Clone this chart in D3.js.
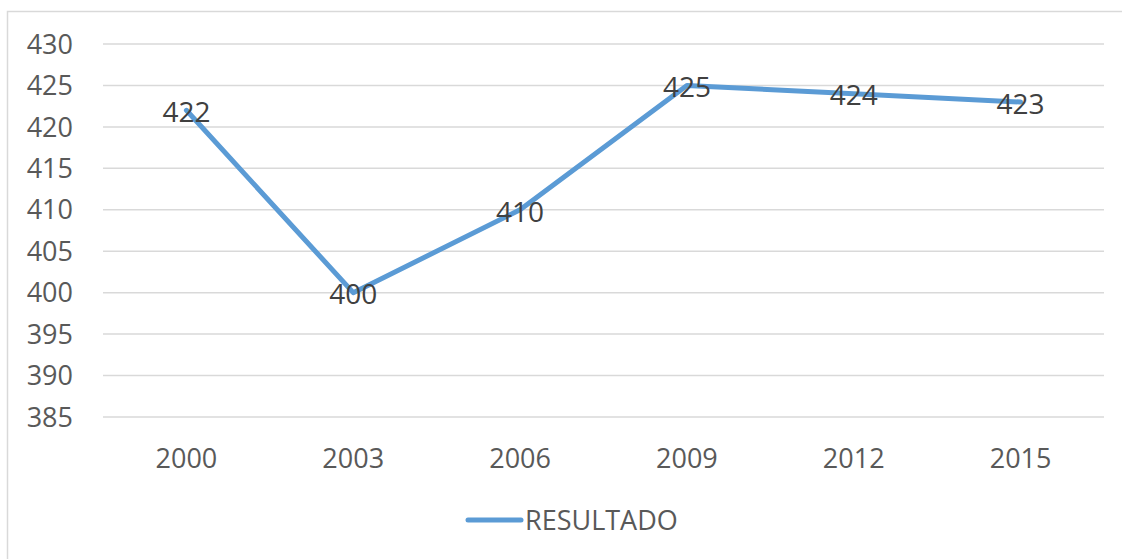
<!DOCTYPE html>
<html>
<head>
  <script src="https://d3js.org/d3.v7.min.js"></script>
  <style>
  body { margin: 0; background: #fff; }
  text { font-family: "Open Sans", sans-serif; }
  </style>
</head>
<body>
  <script>
  var w = 1122;
  var h = 559;

  //Chart data
  var years = ["2000", "2003", "2006", "2009", "2012", "2015"];
  var resultado = [422, 400, 410, 425, 424, 423];
  var yTicks = [385, 390, 395, 400, 405, 410, 415, 420, 425, 430];
  var seriesName = "RESULTADO";

  var svg = d3.select("body")
    .append("svg")
    .attr("width", w)
    .attr("height", h);

  //Chart border
  svg.append("rect")
    .attr("x", 7.5)
    .attr("y", 11.5)
    .attr("width", w + 20)
    .attr("height", h + 20)
    .attr("fill", "#fff")
    .attr("stroke", "#d9d9d9")
    .attr("stroke-width", 1.5);

  var x = d3.scalePoint()
    .domain(years)
    .range([103, 1104])
    .padding(0.5);

  var y = d3.scaleLinear()
    .domain([385, 430])
    .range([417, 44]);

  //Gridlines
  svg.append("g")
    .selectAll("line")
    .data(yTicks)
    .enter()
    .append("line")
      .attr("x1", 103)
      .attr("x2", 1104)
      .attr("y1", function(d){ return y(d); })
      .attr("y2", function(d){ return y(d); })
      .attr("stroke", "#d9d9d9")
      .attr("stroke-width", 1.5);

  //Y axis labels
  svg.append("g")
    .selectAll("text")
    .data(yTicks)
    .enter()
    .append("text")
      .attr("x", 73)
      .attr("y", function(d){ return y(d); })
      .attr("dy", "0.36em")
      .attr("text-anchor", "end")
      .attr("fill", "#595959")
      .style("font-size", "27px")
      .text(function(d){ return d; });

  //X axis labels
  svg.append("g")
    .selectAll("text")
    .data(years)
    .enter()
    .append("text")
      .attr("x", function(d){ return x(d); })
      .attr("y", 468)
      .attr("text-anchor", "middle")
      .attr("fill", "#595959")
      .style("font-size", "27px")
      .text(function(d){ return d; });

  //Line
  var line = d3.line()
    .x(function(d, i){ return x(years[i]); })
    .y(function(d){ return y(d); });

  svg.append("path")
    .datum(resultado)
    .attr("d", line)
    .attr("fill", "none")
    .attr("stroke", "#5b9bd5")
    .attr("stroke-width", 5)
    .attr("stroke-linejoin", "round")
    .attr("stroke-linecap", "round");

  //Data labels centred on points
  svg.append("g")
    .selectAll("text")
    .data(resultado)
    .enter()
    .append("text")
      .attr("x", function(d, i){ return x(years[i]); })
      .attr("y", function(d){ return y(d); })
      .attr("dy", "0.42em")
      .attr("text-anchor", "middle")
      .attr("fill", "#404040")
      .style("font-size", "28px")
      .text(function(d){ return d; });

  //Legend
  var legend = svg.append("g");
  legend.append("line")
    .attr("x1", 468)
    .attr("x2", 521)
    .attr("y1", 520)
    .attr("y2", 520)
    .attr("stroke", "#5b9bd5")
    .attr("stroke-width", 5)
    .attr("stroke-linecap", "round");
  legend.append("text")
    .attr("x", 525)
    .attr("y", 530)
    .attr("fill", "#595959")
    .style("font-size", "27px")
    .text(seriesName);
  </script>
</body>
</html>
